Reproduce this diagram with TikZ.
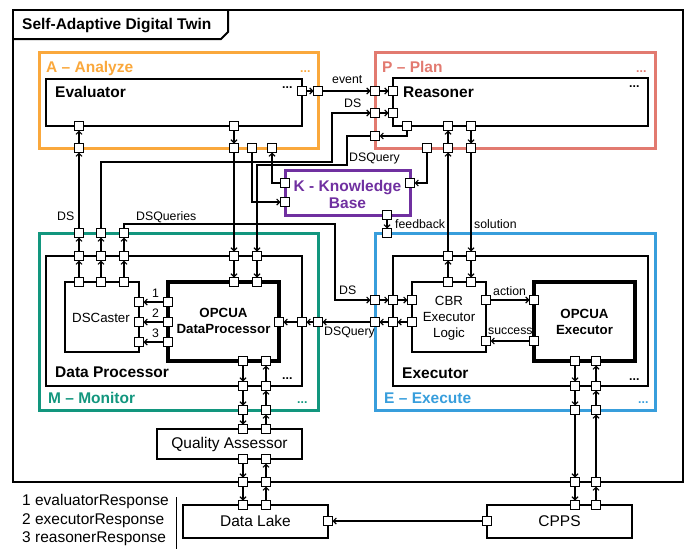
\documentclass[tikz,border=0pt]{standalone}
\usepackage{fontspec}
\setmainfont{Liberation Sans}
\usetikzlibrary{arrows.meta,fit}
\definecolor{anaC}{RGB}{250,168,60}
\definecolor{plaC}{RGB}{226,122,112}
\definecolor{monC}{RGB}{18,150,126}
\definecolor{exeC}{RGB}{56,158,220}
\definecolor{kbC}{RGB}{112,48,160}
\newcommand\hdfont{\fontsize{15.5pt}{17pt}\selectfont\bfseries}
\newcommand\opfont{\fontsize{13.3pt}{16pt}\selectfont\bfseries}
\newcommand\bxfont{\fontsize{15.5pt}{18pt}\selectfont}
\newcommand\inbxfont{\fontsize{13.3pt}{16pt}\selectfont}
\newcommand\smfont{\fontsize{12.3pt}{14pt}\selectfont}
\begin{document}
\begin{tikzpicture}[x=1pt,y=-1pt,
  port/.style={draw, fill=white, line width=1.1pt, minimum size=9pt, inner sep=0pt, outer sep=0pt},
  conn/.style={line width=1.1pt, -{Straight Barb[length=3pt,width=6pt]}},
  area/.style={draw, line width=3pt, inner sep=0pt, outer sep=0pt},
  comp/.style={draw, line width=1.8pt, inner sep=0pt, outer sep=0pt},
  opc/.style={draw, line width=3.2pt, inner sep=0pt, outer sep=0pt},
  part/.style={draw, line width=1.3pt, inner sep=0pt, outer sep=0pt},
  lbl/.style={inner sep=0pt, anchor=base west},
  dots/.style={inner sep=0pt, anchor=base west, font=\smfont\bfseries},
]
\useasboundingbox (0,0) rectangle (686,549);

% outer frame with its title tab
\node[draw, line width=2pt, inner sep=0pt, fit={(13,10) (683,482)}] (sadt) {};
\draw[line width=2pt] (13,39) -- (221,39) -- (228,32) -- (228,10);
\node[lbl, font=\hdfont] (ttl) at (22,29) {Self-Adaptive Digital Twin};

% MAPE-K areas
\node[area, draw=anaC, fit={(39,52) (318,148)}] (ana) {};
\node[area, draw=plaC, fit={(375,52) (655,148)}] (pla) {};
\node[area, draw=monC, fit={(39,233) (318,410)}] (mon) {};
\node[area, draw=exeC, fit={(375,233) (655,410)}] (exe) {};
\node[area, draw=kbC, fit={(285,170) (410,215)}] (kb) {};
\node[font=\hdfont, text=kbC, align=center, inner sep=0pt] (kbt) at (347.5,194) {K - Knowledge\\Base};

% components
\node[comp, fit={(46,79) (302,126)}] (evl) {};
\node[comp, fit={(393,78) (648,126)}] (rsn) {};
\node[comp, fit={(46,256) (302,386)}] (dpr) {};
\node[comp, fit={(393,256) (648,386)}] (exr) {};
\node[part, fit={(65,282) (139,352)}] (dsc) {};
\node[opc, fit={(168,282) (279,361)}] (opd) {};
\node[part, fit={(412,282) (486,352)}] (cbr) {};
\node[opc, fit={(534,282) (635,361)}] (ope) {};
\node[part, fit={(157,429) (302,459)}] (qas) {};
\node[part, fit={(183,505) (328,538)}] (dlk) {};
\node[part, fit={(487,505) (632,538)}] (cps) {};

\node[font=\inbxfont, inner sep=0pt] (dsct) at (101,318) {DSCaster};
\node[font=\opfont, align=center, inner sep=0pt] (opdt) at (223.5,321) {OPCUA\\DataProcessor};
\node[font=\inbxfont, align=center, inner sep=0pt] (cbrt) at (449,318.5) {CBR\\Executor\\Logic};
\node[font=\opfont, align=center, inner sep=0pt] (opet) at (584.5,322) {OPCUA\\Executor};
\node[font=\bxfont, inner sep=0pt] (qast) at (229.5,444) {Quality Assessor};
\node[font=\bxfont, inner sep=0pt] (dlkt) at (255.5,521) {Data Lake};
\node[font=\bxfont, inner sep=0pt] (cpst) at (559.5,521) {CPPS};

% area and component titles
\node[lbl, font=\hdfont, text=anaC] (anat) at (46,72) {A – Analyze};
\node[lbl, font=\hdfont, text=plaC] (plat) at (382,72) {P – Plan};
\node[lbl, font=\hdfont, text=monC] (mont) at (48,403) {M – Monitor};
\node[lbl, font=\hdfont, text=exeC] (exet) at (384,403) {E – Execute};
\node[lbl, font=\hdfont] (evlt) at (55,97) {Evaluator};
\node[lbl, font=\hdfont] (rsnt) at (403,97) {Reasoner};
\node[lbl, font=\hdfont] (dprt) at (55,377) {Data Processor};
\node[lbl, font=\hdfont] (exrt) at (402,378) {Executor};
\node[dots, text=anaC] (anad) at (300,72) {...};
\node[dots, text=plaC] (plad) at (636,72) {...};
\node[dots, text=monC] (mond) at (297,403) {...};
\node[dots, text=exeC] (exed) at (638,403) {...};
\node[dots] (evld) at (282,88) {...};
\node[dots] (rsnd) at (629,87) {...};
\node[dots] (dprd) at (282,379) {...};
\node[dots] (exrd) at (629,380) {...};

% ports: Analyze
\node[port] (evR) at (302,91) {};
\node[port] (anR) at (318,91) {};
\node[port] (evB1) at (79,126) {};
\node[port] (evB2) at (234,126) {};
\node[port] (anB1) at (79,148) {};
\node[port] (anB2) at (234,148) {};
\node[port] (anB3) at (252,148) {};
\node[port] (anB4) at (272,148) {};
% ports: Plan
\node[port] (plE) at (375,91) {};
\node[port] (plD) at (375,113) {};
\node[port] (plQ) at (375,136) {};
\node[port] (rsE) at (393,91) {};
\node[port] (rsD) at (393,113) {};
\node[port] (rsB1) at (407,126) {};
\node[port] (rsB2) at (448,126) {};
\node[port] (rsB3) at (471,126) {};
\node[port] (plB1) at (427,148) {};
\node[port] (plB2) at (448,148) {};
\node[port] (plB3) at (471,148) {};
% ports: Knowledge Base
\node[port] (kbL1) at (285,183) {};
\node[port] (kbL2) at (285,202) {};
\node[port] (kbR) at (410,183) {};
\node[port] (kbB) at (387,215) {};
% ports: Monitor
\node[port] (moT1) at (79,233) {};
\node[port] (moT2) at (101,233) {};
\node[port] (moT3) at (124,233) {};
\node[port] (dpT1) at (79,256) {};
\node[port] (dpT2) at (101,256) {};
\node[port] (dpT3) at (124,256) {};
\node[port] (dpT4) at (234,256) {};
\node[port] (dpT5) at (257,256) {};
\node[port] (dsT1) at (79,282) {};
\node[port] (dsT2) at (101,282) {};
\node[port] (dsT3) at (124,282) {};
\node[port] (dsR1) at (139,302) {};
\node[port] (dsR2) at (139,322) {};
\node[port] (dsR3) at (139,342) {};
\node[port] (opL1) at (168,302) {};
\node[port] (opL2) at (168,322) {};
\node[port] (opL3) at (168,342) {};
\node[port] (opT1) at (234,282) {};
\node[port] (opT2) at (257,282) {};
\node[port] (opR) at (279,322) {};
\node[port] (dpR) at (302,322) {};
\node[port] (moR) at (318,322) {};
\node[port] (opB1) at (243,361) {};
\node[port] (opB2) at (266,361) {};
\node[port] (dpB1) at (243,386) {};
\node[port] (dpB2) at (266,386) {};
\node[port] (moB1) at (243,410) {};
\node[port] (moB2) at (266,410) {};
\node[port] (qaT1) at (243,429) {};
\node[port] (qaT2) at (266,429) {};
\node[port] (qaB1) at (243,459) {};
\node[port] (qaB2) at (266,459) {};
\node[port] (frB1) at (243,482) {};
\node[port] (frB2) at (266,482) {};
\node[port] (dlT1) at (243,505) {};
\node[port] (dlT2) at (266,505) {};
\node[port] (dlR) at (328,521) {};
% ports: Execute
\node[port] (exK) at (387,233) {};
\node[port] (exD) at (375,300) {};
\node[port] (exQ) at (375,322) {};
\node[port] (xrL1) at (393,300) {};
\node[port] (xrL2) at (393,322) {};
\node[port] (cbL1) at (412,300) {};
\node[port] (cbL2) at (412,322) {};
\node[port] (xrT1) at (448,256) {};
\node[port] (xrT2) at (471,256) {};
\node[port] (cbT1) at (448,282) {};
\node[port] (cbT2) at (471,282) {};
\node[port] (cbR1) at (486,300) {};
\node[port] (cbR2) at (486,341) {};
\node[port] (oeL1) at (534,300) {};
\node[port] (oeL2) at (534,341) {};
\node[port] (oeB1) at (575,361) {};
\node[port] (oeB2) at (596,361) {};
\node[port] (xrB1) at (575,386) {};
\node[port] (xrB2) at (596,386) {};
\node[port] (exB1) at (575,410) {};
\node[port] (exB2) at (596,410) {};
\node[port] (frB3) at (575,482) {};
\node[port] (frB4) at (596,482) {};
\node[port] (cpT1) at (575,505) {};
\node[port] (cpT2) at (596,505) {};
\node[port] (cpL) at (487,521) {};

% Analyze <-> Plan
\draw[conn] (evR) -- (anR);
\draw[conn] (anR) -- (plE);
\draw[conn] (plE) -- (rsE);
\draw[conn] (plD) -- (rsD);
\draw[conn] (rsB1) |- (plQ);
% Monitor -> Analyze / Plan / Execute
\draw[conn] (dsT1) -- (dpT1);
\draw[conn] (dpT1) -- (moT1);
\draw[conn] (moT1) -- (anB1);
\draw[conn] (anB1) -- (evB1);
\draw[conn] (dsT2) -- (dpT2);
\draw[conn] (dpT2) -- (moT2);
\draw[conn] (moT2) |- (332,162) |- (plD);
\draw[conn] (dsT3) -- (dpT3);
\draw[conn] (dpT3) -- (moT3);
\draw[conn] (moT3) |- (335,224) |- (exD);
% queries into the data processor
\draw[conn] (evB2) -- (anB2);
\draw[conn] (anB2) -- (dpT4);
\draw[conn] (dpT4) -- (opT1);
\draw[conn] (plQ) -| (347,165) -| (dpT5);
\draw[conn] (dpT5) -- (opT2);
% knowledge base
\draw[conn] (kbL1) -| (anB4);
\draw[conn] (anB3) |- (kbL2);
\draw[conn] (plB1) |- (kbR);
\draw[conn] (kbB) -- (exK);
% Plan <-> Execute
\draw[conn] (cbT1) -- (xrT1);
\draw[conn] (xrT1) -- (plB2);
\draw[conn] (plB2) -- (rsB2);
\draw[conn] (rsB3) -- (plB3);
\draw[conn] (plB3) -- (xrT2);
\draw[conn] (xrT2) -- (cbT2);
% Execute internals
\draw[conn] (exD) -- (xrL1);
\draw[conn] (xrL1) -- (cbL1);
\draw[conn] (cbL2) -- (xrL2);
\draw[conn] (xrL2) -- (exQ);
\draw[conn] (exQ) -- (moR);
\draw[conn] (moR) -- (dpR);
\draw[conn] (dpR) -- (opR);
\draw[conn] (cbR1) -- (oeL1);
\draw[conn] (oeL2) -- (cbR2);
% responses into the caster
\draw[conn] (opL1) -- (dsR1);
\draw[conn] (opL2) -- (dsR2);
\draw[conn] (opL3) -- (dsR3);
% data processor <-> quality assessor <-> data lake
\draw[conn] (opB1) -- (dpB1);
\draw[conn] (dpB1) -- (moB1);
\draw[conn] (moB1) -- (qaT1);
\draw[conn] (qaB1) -- (frB1);
\draw[conn] (frB1) -- (dlT1);
\draw[conn] (dlT2) -- (frB2);
\draw[conn] (frB2) -- (qaB2);
\draw[conn] (qaT2) -- (moB2);
\draw[conn] (moB2) -- (dpB2);
\draw[conn] (dpB2) -- (opB2);
% executor <-> CPPS
\draw[conn] (oeB1) -- (xrB1);
\draw[conn] (xrB1) -- (exB1);
\draw[conn] (exB1) -- (frB3);
\draw[conn] (frB3) -- (cpT1);
\draw[conn] (cpT2) -- (frB4);
\draw[conn] (frB4) -- (exB2);
\draw[conn] (exB2) -- (xrB2);
\draw[conn] (xrB2) -- (oeB2);
\draw[conn] (cpL) -- (dlR);

% connector labels
\node[lbl, font=\smfont] (lEvent) at (332,83) {event};
\node[lbl, font=\smfont] (lDSp) at (344,107) {DS};
\node[lbl, font=\smfont] (lDSQp) at (349,161) {DSQuery};
\node[lbl, font=\smfont] (lDSm) at (57,220) {DS};
\node[lbl, font=\smfont] (lDSQs) at (136,220) {DSQueries};
\node[lbl, font=\smfont] (lFb) at (395,228) {feedback};
\node[lbl, font=\smfont] (lSol) at (474,228) {solution};
\node[lbl, font=\smfont] (lDSe) at (339,294) {DS};
\node[lbl, font=\smfont] (lDSQe) at (324,335) {DSQuery};
\node[lbl, font=\smfont] (lAct) at (493,295) {action};
\node[lbl, font=\smfont] (lSuc) at (488,334) {success};
\node[lbl, font=\smfont] (lOne) at (152,297) {1};
\node[lbl, font=\smfont] (lTwo) at (152,317) {2};
\node[lbl, font=\smfont] (lThree) at (152,337) {3};

% legend
\node[lbl, font=\bxfont] (lg1) at (22,505) {1 evaluatorResponse};
\node[lbl, font=\bxfont] (lg2) at (22,524) {2 executorResponse};
\node[lbl, font=\bxfont] (lg3) at (22,542) {3 reasonerResponse};
\coordinate (lgTop) at (176,497);
\coordinate (lgBot) at (176,549);
\draw[line width=1pt] (lgTop) -- (lgBot);
\end{tikzpicture}
\end{document}
